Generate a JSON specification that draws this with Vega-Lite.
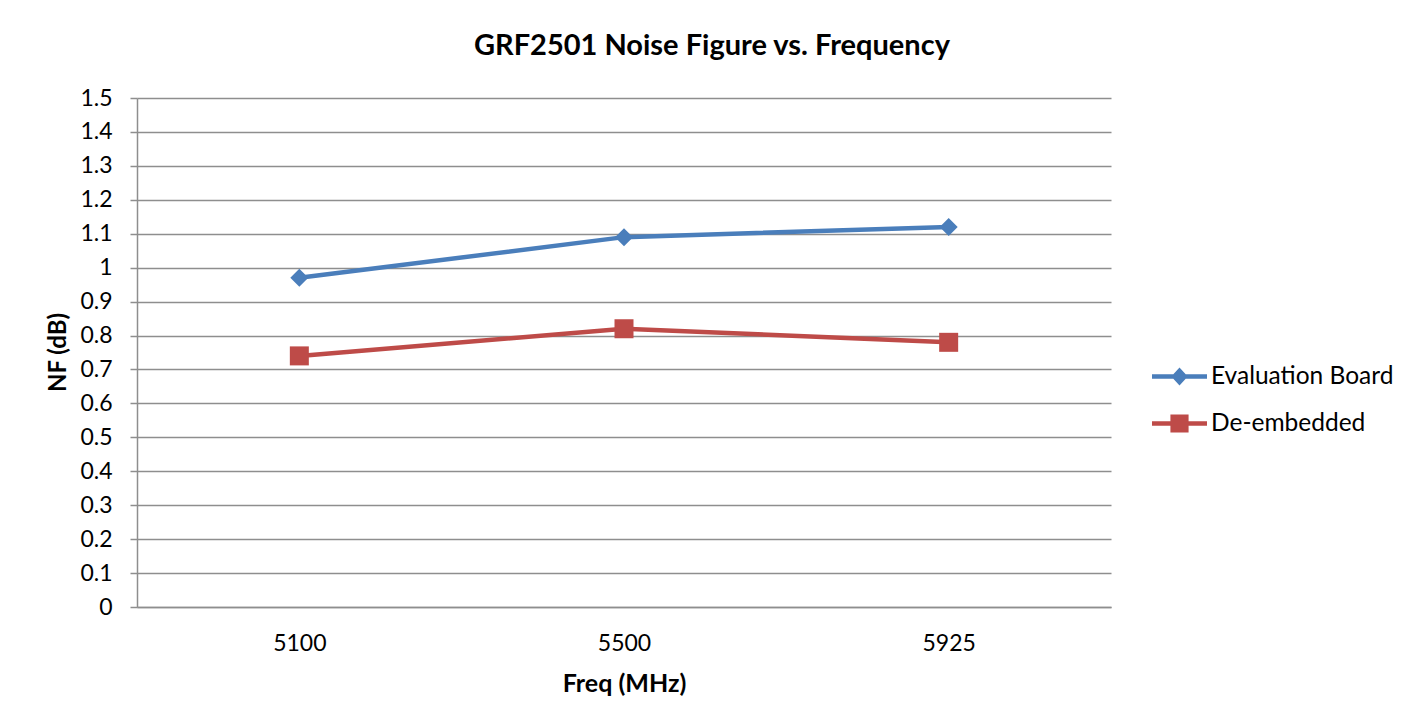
{
  "$schema": "https://vega.github.io/schema/vega-lite/v6.json",
  "width": 974,
  "height": 509,
  "autosize": {"type": "none"},
  "padding": {"left": 137, "top": 98, "right": 315, "bottom": 121},
  "background": "white",
  "config": {
    "font": "Lato",
    "view": {"stroke": null},
    "axis": {"labelFont": "Lato", "titleFont": "Lato", "labelColor": "#000000", "titleColor": "#000000"}
  },
  "title": {
    "text": "GRF2501 Noise Figure vs. Frequency",
    "font": "Lato",
    "fontSize": 29,
    "fontWeight": "bold",
    "color": "#000000",
    "anchor": "middle",
    "dx": 88,
    "offset": 26
  },
  "data": {
    "values": [
      {"freq": "5100", "series": "Evaluation Board", "nf": 0.97},
      {"freq": "5500", "series": "Evaluation Board", "nf": 1.09},
      {"freq": "5925", "series": "Evaluation Board", "nf": 1.12},
      {"freq": "5100", "series": "De-embedded", "nf": 0.74},
      {"freq": "5500", "series": "De-embedded", "nf": 0.82},
      {"freq": "5925", "series": "De-embedded", "nf": 0.78}
    ]
  },
  "encoding": {
    "x": {
      "field": "freq",
      "type": "ordinal",
      "sort": ["5100", "5500", "5925"],
      "scale": {"type": "point", "padding": 0.5},
      "axis": {
        "title": "Freq (MHz)",
        "titleFontSize": 25,
        "titleFontWeight": "bold",
        "titleX": 487,
        "titleY": 76,
        "titleBaseline": "middle",
        "labelAngle": 0,
        "labelFontSize": 23,
        "labelPadding": 25,
        "ticks": false,
        "domainColor": "#8E8E8E",
        "domainWidth": 1.5,
        "grid": false
      }
    },
    "y": {
      "field": "nf",
      "type": "quantitative",
      "scale": {"domain": [0, 1.5], "nice": false, "zero": true},
      "axis": {
        "title": "NF (dB)",
        "titleFontSize": 24,
        "titleFontWeight": "bold",
        "titleX": -79,
        "titleY": 254,
        "titleAngle": 270,
        "titleAlign": "center",
        "titleBaseline": "middle",
        "values": [0, 0.1, 0.2, 0.3, 0.4, 0.5, 0.6, 0.7, 0.8, 0.9, 1, 1.1, 1.2, 1.3, 1.4, 1.5],
        "format": ".1~f",
        "labelFontSize": 23,
        "labelPadding": 18,
        "labelBaseline": "middle",
        "tickSize": 7,
        "tickColor": "#8E8E8E",
        "tickWidth": 1.5,
        "domainColor": "#8E8E8E",
        "domainWidth": 1.5,
        "grid": true,
        "gridColor": "#8E8E8E",
        "gridWidth": 1.5
      }
    },
    "color": {
      "field": "series",
      "type": "nominal",
      "sort": ["Evaluation Board", "De-embedded"],
      "scale": {"domain": ["Evaluation Board", "De-embedded"], "range": ["#4A7EBB", "#BE4B48"]},
      "legend": {
        "title": null,
        "orient": "none",
        "legendX": 1015,
        "legendY": 251,
        "padding": 0,
        "labelFontSize": 24.5,
        "labelFont": "Lato",
        "labelColor": "#000000",
        "labelOffset": 4,
        "labelLimit": 0,
        "symbolSize": 3025,
        "rowPadding": 8,
        "symbolStrokeWidth": 0,
        "encode": {
          "symbols": {
            "update": {
              "shape": {"signal": "datum.value == 'Evaluation Board' ? 'M-1,-0.08H1V0.08H-1Z M0,-0.33L0.3,0L0,0.33L-0.3,0Z' : 'M-1,-0.08H1V0.08H-1Z M-0.33,-0.33H0.33V0.33H-0.33Z'"},
              "fill": {"scale": "color", "field": "value"},
              "fillOpacity": {"value": 1},
              "strokeWidth": {"value": 0}
            }
          }
        }
      }
    }
  },
  "layer": [
    {
      "mark": {"type": "line", "strokeWidth": 4.5, "strokeCap": "round"}
    },
    {
      "transform": [{"filter": "datum.series == 'Evaluation Board'"}],
      "mark": {"type": "point", "filled": true, "opacity": 1, "size": 324, "shape": "diamond"}
    },
    {
      "transform": [{"filter": "datum.series == 'De-embedded'"}],
      "mark": {"type": "point", "filled": true, "opacity": 1, "size": 361, "shape": "square"}
    }
  ]
}
